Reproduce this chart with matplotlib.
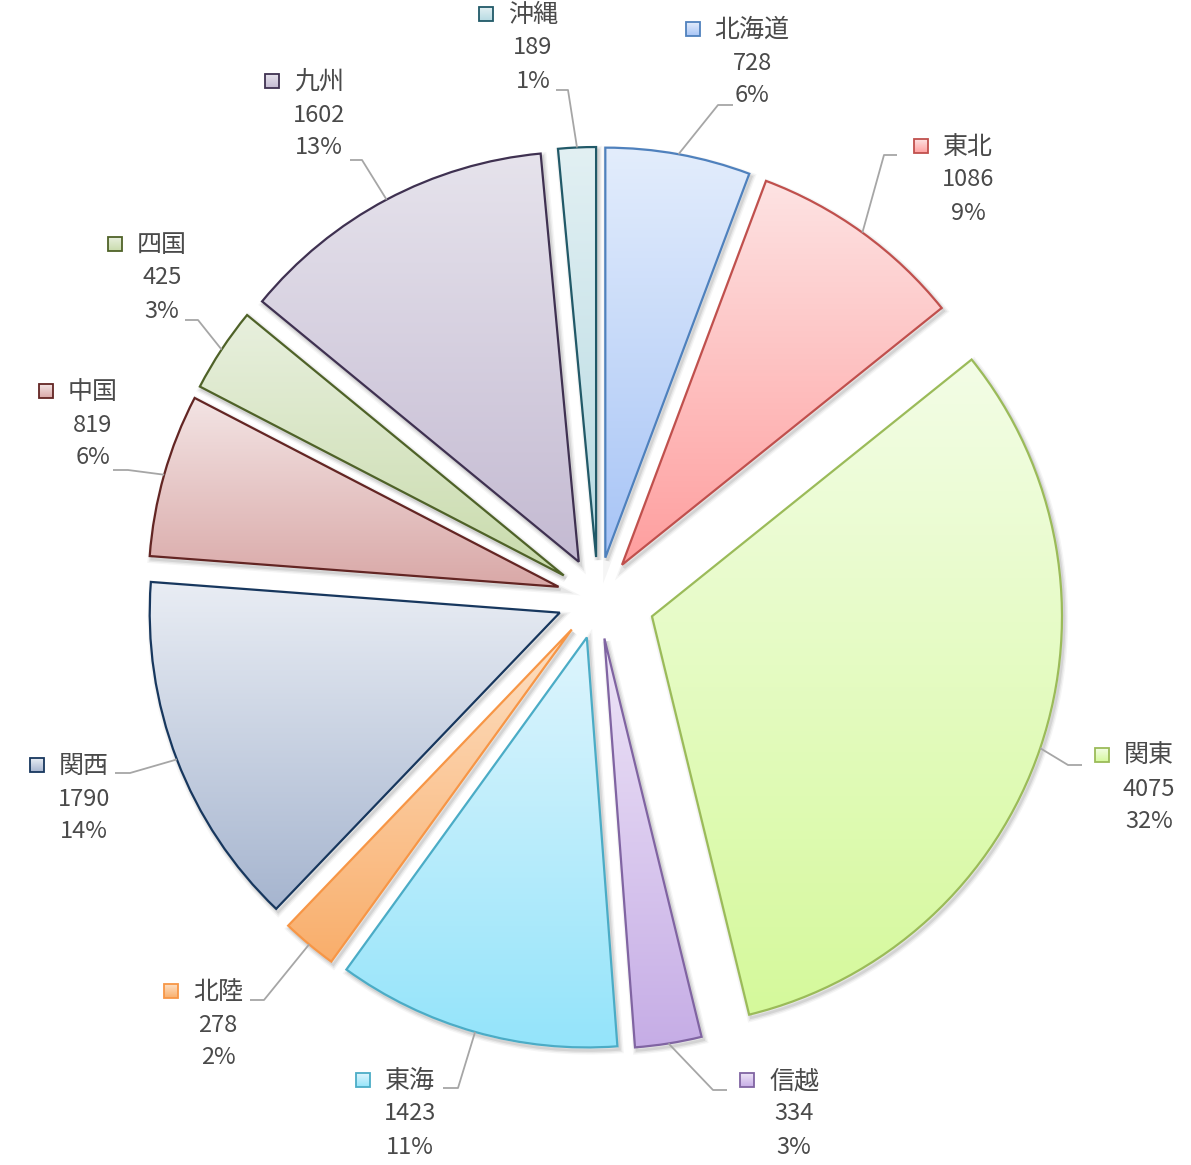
import numpy as np
import matplotlib.pyplot as plt
from matplotlib.colors import to_rgb
from matplotlib.patches import Rectangle, Wedge

plt.rcParams['font.family'] = ['Noto Sans CJK JP', 'DejaVu Sans']

# data (clockwise from 12 o'clock)
regions = ['北海道', '東北', '関東', '信越', '東海', '北陸', '関西', '中国', '四国', '九州', '沖縄']
values = [728, 1086, 4075, 334, 1423, 278, 1790, 819, 425, 1602, 189]

# gradient colours per slice: top -> bottom, plus outline
top_colors = ['#e3edfc', '#fde3e3', '#f3fde6', '#eee5f7', '#dff5fd', '#fde0c4',
              '#e9edf4', '#f3e4e4', '#e8f0de', '#e6e3ec', '#e2f0f3']
bottom_colors = ['#a7c4f6', '#ff9e9e', '#d5f99b', '#c6ade6', '#94e4fa', '#f9ae6b',
                 '#a6b5cf', '#d9a8a7', '#c9dbac', '#c4bad2', '#b7dae2']
edge_colors = ['#4f81bd', '#c0504d', '#9bbb59', '#8064a2', '#4bacc6', '#f79646',
               '#17375e', '#632523', '#4f6228', '#3f3151', '#215968']
# slice offsets (px), 関東 pulled out a bit further
explode = [41, 41, 57, 41, 41, 41, 41, 41, 41, 41, 41]

# label layout in pixels from top-left: name centre, leader elbow, leader end
label_pos = [(752, 30), (968, 147), (1149, 756), (794, 1081), (410, 1081), (218, 992),
             (84, 766), (93, 392), (162, 245), (319, 82), (533, 15)]
elbow_pos = [(718, 105), (884, 155), (1068, 765), (713, 1090), (458, 1088), (264, 1000),
             (130, 773), (128, 470), (198, 320), (362, 160), (568, 90)]
end_pos = [(733, 105), (897, 155), (1082, 765), (727, 1090), (443, 1088), (250, 1000),
           (115, 773), (113, 470), (185, 320), (350, 160), (556, 90)]

W, H = 1191, 1165
TXT = '#4a4a4a'


def px(p):
    return p[0], H - p[1]


def gradient_fill(ax, patch, c_top, c_bot, z):
    bb = patch.get_path().transformed(patch.get_patch_transform()).get_extents()
    t = np.linspace(0, 1, 256)[:, None, None]
    arr = np.array(to_rgb(c_top))[None, None, :] * (1 - t) + np.array(to_rgb(c_bot))[None, None, :] * t
    im = ax.imshow(arr, extent=(bb.x0, bb.x1, bb.y0, bb.y1), origin='upper',
                   aspect='auto', interpolation='bilinear', zorder=z)
    im.set_clip_path(patch)


fig = plt.figure(figsize=(W / 100, H / 100), dpi=100)
ax = fig.add_axes([0, 0, 1, 1])

total = sum(values)
wedges, _ = ax.pie(values, center=px((598, 598)), radius=410, explode=explode,
                   startangle=90, counterclock=False,
                   wedgeprops=dict(linewidth=1.6))

for i, w in enumerate(wedges):
    w.set_facecolor('none')
    w.set_edgecolor(edge_colors[i])
    w.set_zorder(3)
    cx, cy = w.center
    # soft shadow
    for k, a in [(6, 0.04), (4, 0.06), (2, 0.08)]:
        sh = Wedge((cx + 2, cy - 3), w.r, w.theta1, w.theta2, facecolor='none',
                   edgecolor='black', linewidth=k, alpha=a, zorder=1)
        ax.add_patch(sh)
    bg = Wedge((cx, cy), w.r, w.theta1, w.theta2, facecolor='white', edgecolor='none', zorder=1.5)
    ax.add_patch(bg)
    gradient_fill(ax, w, top_colors[i], bottom_colors[i], 2)

    # leader line from mid of arc
    tm = np.deg2rad((w.theta1 + w.theta2) / 2)
    ax_x, ax_y = cx + w.r * np.cos(tm), cy + w.r * np.sin(tm)
    ex, ey = px(elbow_pos[i])
    nx, ny = px(end_pos[i])
    ax.plot([ax_x, ex, nx], [ax_y, ey, ny], color='#a6a6a6', lw=1.3, zorder=4,
            solid_capstyle='butt')

    # label: marker + name, value, percent
    lx, ly = px(label_pos[i])
    ax.text(lx, ly, regions[i], ha='center', va='center', fontsize=18, color=TXT, zorder=5)
    ax.text(lx, ly - 33, f'{values[i]}', ha='center', va='center', fontsize=17, color=TXT, zorder=5)
    ax.text(lx, ly - 66, f'{values[i] / total:.0%}', ha='center', va='center', fontsize=17,
            color=TXT, zorder=5)
    mx = lx - (len(regions[i]) * 12.5 + 22)
    sq = Rectangle((mx - 7, ly - 6), 14, 14, facecolor='none', edgecolor=edge_colors[i],
                   linewidth=1.3, zorder=6)
    ax.add_patch(sq)
    gradient_fill(ax, sq, top_colors[i], bottom_colors[i], 5.5)

ax.set_xlim(0, W)
ax.set_ylim(0, H)
ax.set_aspect('auto')
ax.axis('off')

fig.savefig('out.png', dpi=100, facecolor='white')
